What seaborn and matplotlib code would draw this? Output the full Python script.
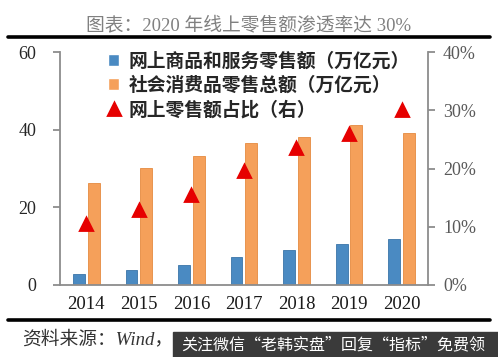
import pandas as pd
import matplotlib.pyplot as plt
import seaborn as sns
from matplotlib.lines import Line2D
from matplotlib.patches import Rectangle

# 数据（万亿元）
years = ['2014', '2015', '2016', '2017', '2018', '2019', '2020']
online_sales = [2.8, 3.9, 5.2, 7.2, 9.0, 10.6, 11.8]
total_sales = [26.2, 30.1, 33.2, 36.6, 38.1, 41.2, 39.2]
online_share = [0.105, 0.129, 0.154, 0.195, 0.236, 0.259, 0.300]

name_online = '网上商品和服务零售额（万亿元）'
name_total = '社会消费品零售总额（万亿元）'
name_share = '网上零售额占比（右）'

bar_df = pd.DataFrame({
    'year': years * 2,
    'value': online_sales + total_sales,
    'series': [name_online] * len(years) + [name_total] * len(years),
})

sns.set_style('white')
plt.rcParams['font.family'] = ['Liberation Serif', 'Noto Sans CJK SC']
plt.rcParams['axes.unicode_minus'] = False

fig = plt.figure(figsize=(4.98, 3.57), dpi=100)
ax = fig.add_axes([0.1205, 0.2017, 0.7385, 0.6526])

sns.barplot(data=bar_df, x='year', y='value', hue='series', ax=ax,
            palette=['#4a8ac2', '#f5a05a'], width=0.56, gap=0.2,
            saturation=1, legend=True)
for i, bars in enumerate(ax.containers):
    for b in bars:
        b.set_edgecolor(['#3a74a8', '#e58a40'][i])
        b.set_linewidth(0.6)

leg0 = ax.get_legend()
handles = list(leg0.legend_handles)
labels = [t.get_text() for t in leg0.get_texts()]
leg0.remove()

ax2 = ax.twinx()
sns.pointplot(x=years, y=online_share, ax=ax2, errorbar=None,
              linestyle='none', marker='^', color='#e60000',
              markersize=9, label=name_share)
if ax2.get_legend():
    ax2.get_legend().remove()
h2, l2 = ax2.get_legend_handles_labels()
handles += h2
labels += l2

# 坐标轴
ax.set_ylim(0, 60)
ax2.set_ylim(0, 0.4)
ax.set_xlim(-0.5, 6.5)
ax.set_yticks([0, 20, 40, 60])
ax2.set_yticks([0, 0.1, 0.2, 0.3, 0.4])
ax2.set_yticklabels(['0%', '10%', '20%', '30%', '40%'])
ax.set_xticks(range(len(years)))
ax.set_xticklabels(years)
ax.set_xticks([i - 0.5 for i in range(len(years) + 1)], minor=True)
ax.set_xlabel('')
ax.set_ylabel('')
ax2.set_ylabel('')

for a in (ax, ax2):
    a.spines['top'].set_visible(False)
    for s in ('left', 'right', 'bottom'):
        a.spines[s].set_color('#8c8c8c')
        a.spines[s].set_linewidth(1.3)
ax2.spines['left'].set_visible(False)
ax2.spines['bottom'].set_visible(False)
ax.spines['right'].set_visible(False)

ax.tick_params(axis='x', which='major', length=0, labelsize=13.5,
               labelcolor='#1a1a1a', pad=8)
ax.tick_params(axis='x', which='minor', length=5, width=1.3,
               color='#8c8c8c', direction='out')
ax.tick_params(axis='y', length=5, width=1.3, color='#8c8c8c',
               labelsize=13, labelcolor='#262626', direction='out', pad=12)
ax2.tick_params(axis='y', length=5, width=1.3, color='#8c8c8c',
                labelsize=13, labelcolor='#595959', direction='out', pad=6)

leg = ax.legend(handles, labels, loc='upper left', bbox_to_anchor=(0.085, 1.075),
                frameon=False, handlelength=0.6, handleheight=0.6,
                handletextpad=0.5, labelspacing=0.3,
                prop={'family': ['Noto Sans CJK SC'], 'weight': 'bold', 'size': 13.5})
leg.legend_handles[2].set_markersize(8)

# 标题与装饰线
fig.text(0.5, 0.93, '图表：2020 年线上零售额渗透率达 30%', ha='center', va='center',
         fontsize=13.5, color='#808080',
         family=['Liberation Serif', 'Noto Sans CJK SC'])
fig.add_artist(Line2D([0.016, 0.984], [0.896, 0.896], color='black', lw=2.6))
fig.add_artist(Line2D([0.016, 0.984], [0.104, 0.104], color='black', lw=2.6))

fig.text(0.044, 0.05, '资料来源：Wind，', ha='left', va='center', fontsize=13.5,
         color='#333333', style='italic',
         family=['Liberation Serif', 'Noto Sans CJK SC'])
fig.add_artist(Rectangle((0.347, 0.0), 0.653, 0.07, transform=fig.transFigure,
                         color='#3a3a3a'))
fig.text(0.67, 0.035, '关注微信“老韩实盘”回复“指标”免费领', ha='center', va='center',
         fontsize=11.5, color='white', family=['Noto Sans CJK SC'])

fig.savefig('out.png', dpi=100)
